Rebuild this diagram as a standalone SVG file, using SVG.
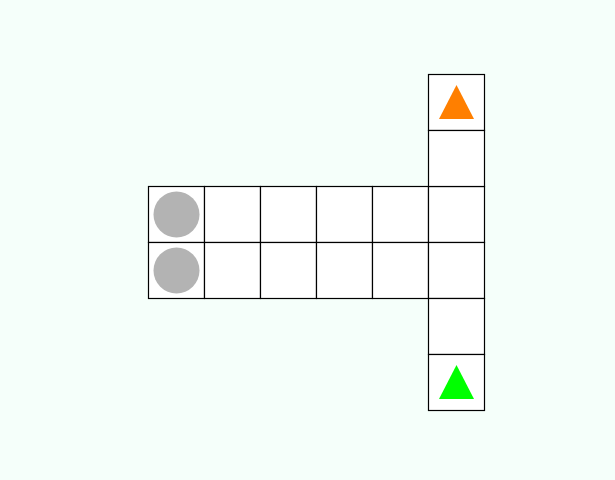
<svg xmlns="http://www.w3.org/2000/svg" width="615" height="480" viewBox="0 0 615 480">
<style>
.cell{fill:#ffffff;stroke:#000000;stroke-width:1.2}
.token{fill:#b3b3b3}
</style>
<rect width="615" height="480" fill="#f5fffa"/>
<g id="grid">
<rect class="cell" x="148.5" y="186.5" width="56" height="56"/>
<rect class="cell" x="204.5" y="186.5" width="56" height="56"/>
<rect class="cell" x="260.5" y="186.5" width="56" height="56"/>
<rect class="cell" x="316.5" y="186.5" width="56" height="56"/>
<rect class="cell" x="372.5" y="186.5" width="56" height="56"/>
<rect class="cell" x="428.5" y="186.5" width="56" height="56"/>
<rect class="cell" x="148.5" y="242.5" width="56" height="56"/>
<rect class="cell" x="204.5" y="242.5" width="56" height="56"/>
<rect class="cell" x="260.5" y="242.5" width="56" height="56"/>
<rect class="cell" x="316.5" y="242.5" width="56" height="56"/>
<rect class="cell" x="372.5" y="242.5" width="56" height="56"/>
<rect class="cell" x="428.5" y="242.5" width="56" height="56"/>
<rect class="cell" x="428.5" y="74.5" width="56" height="56"/>
<rect class="cell" x="428.5" y="130.5" width="56" height="56"/>
<rect class="cell" x="428.5" y="298.5" width="56" height="56"/>
<rect class="cell" x="428.5" y="354.5" width="56" height="56"/>
</g>
<g id="circle1"><circle class="token" cx="176.5" cy="214.5" r="23"/></g>
<g id="circle2"><circle class="token" cx="176.5" cy="270.5" r="23"/></g>
<g id="triangle-orange"><polygon points="456.5,85 439,119 474,119" fill="#ff7f00"/></g>
<g id="triangle-green"><polygon points="456.5,365 439,399 474,399" fill="#00ff00"/></g>
<g id="connectors"></g>
</svg>
